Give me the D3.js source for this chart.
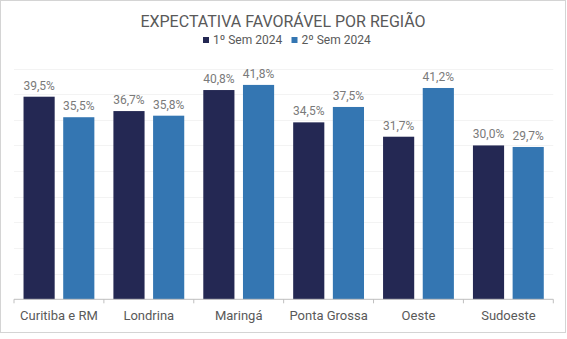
<html>
<meta name="viewport" content="width=device-width, initial-scale=1">
    <head>
        <script src="https://d3js.org/d3.v7.js"></script>
        <style>
            body { margin: 0; background: #fff; }
            text { font-family: Roboto, "Open Sans", sans-serif; }
        </style>
    </head>

    <body>
        <svg width="567" height="339"></svg>

        <script>
            // regions and the two semesters
            var regioes = ["Curitiba e RM", "Londrina", "Maringá", "Ponta Grossa", "Oeste", "Sudoeste"];
            var semestres = ["1º Sem 2024", "2º Sem 2024"];
            var sem1 = [39.5, 36.7, 40.8, 34.5, 31.7, 30.0];
            var sem2 = [35.5, 35.8, 41.8, 37.5, 41.2, 29.7];
            var cores = ["#242853", "#3476b2"];
            var yTicks = [0, 5, 10, 15, 20, 25, 30, 35, 40, 45];

            var rows = regioes.map(function(r, i) {
                return { regiao: r, valores: [sem1[i], sem2[i]] };
            });

            var ptBR = d3.formatLocale({ decimal: ",", thousands: ".", grouping: [3], currency: ["R$", ""] });
            var fmt = ptBR.format(".1f");

            var mySvg = d3.select("svg");

            // outer frame
            mySvg.append("rect")
                .attr("x", 0.5).attr("y", 0.5)
                .attr("width", 565).attr("height", 332)
                .style("fill", "white")
                .style("stroke", "#d4d4d4")
                .style("stroke-width", 1);

            var plotLeft = 14, plotRight = 553.3, plotTop = 68.5, plotBottom = 299.3;

            var x0 = d3.scaleBand().domain(regioes).range([plotLeft, plotRight]).padding(0);
            var x1 = d3.scaleBand().domain([0, 1]).range([0, x0.bandwidth()])
                .paddingInner(0.215).paddingOuter(0.24);
            var y = d3.scaleLinear().domain([0, 45]).range([plotBottom, plotTop]);

            // light horizontal gridlines
            mySvg.append("g").selectAll("line")
                .data(yTicks.slice(1))
                .join("line")
                .attr("x1", plotLeft).attr("x2", plotRight)
                .attr("y1", function(d) { return Math.round(y(d)) + 0.5; })
                .attr("y2", function(d) { return Math.round(y(d)) + 0.5; })
                .style("stroke", "#f3f3f3")
                .style("stroke-width", 1);

            // bars
            var groups = mySvg.append("g").selectAll("g")
                .data(rows)
                .join("g")
                .attr("transform", function(d) { return "translate(" + x0(d.regiao) + ",0)"; });

            groups.selectAll("rect")
                .data(function(d) { return d.valores; })
                .join("rect")
                .attr("x", function(d, i) { return x1(i); })
                .attr("y", function(d) { return y(d); })
                .attr("width", x1.bandwidth())
                .attr("height", function(d) { return y(0) - y(d); })
                .style("fill", function(d, i) { return cores[i]; });

            groups.selectAll("text")
                .data(function(d) { return d.valores; })
                .join("text")
                .attr("x", function(d, i) { return x1(i) + x1.bandwidth() / 2; })
                .attr("y", function(d) { return y(d) - 7; })
                .attr("text-anchor", "middle")
                .style("font-size", "12px")
                .style("fill", "#7a7a7a")
                .text(function(d) { return fmt(d) + "%"; });

            // category axis with ticks on band edges
            var xAxis = mySvg.append("g").attr("transform", "translate(0," + plotBottom + ")");
            xAxis.append("line")
                .attr("x1", plotLeft).attr("x2", plotRight)
                .style("stroke", "#bfbfbf");
            xAxis.selectAll("line.tick")
                .data(regioes.map(function(r) { return x0(r); }).concat([plotRight]))
                .join("line")
                .attr("class", "tick")
                .attr("x1", function(d) { return d; }).attr("x2", function(d) { return d; })
                .attr("y1", 0).attr("y2", 4)
                .style("stroke", "#bfbfbf");
            xAxis.selectAll("text")
                .data(regioes)
                .join("text")
                .attr("x", function(d) { return x0(d) + x0.bandwidth() / 2; })
                .attr("y", 21)
                .attr("text-anchor", "middle")
                .style("font-size", "13px")
                .style("fill", "#595959")
                .text(function(d) { return d; });

            // title
            mySvg.append("text")
                .attr("x", 283).attr("y", 27)
                .attr("text-anchor", "middle")
                .style("font-size", "16px")
                .style("fill", "#595959")
                .text("EXPECTATIVA FAVORÁVEL POR REGIÃO");

            // legend
            var legend = mySvg.append("g").selectAll("g")
                .data(semestres)
                .join("g")
                .attr("transform", function(d, i) { return "translate(" + (203 + i * 88.5) + ",37)"; });
            legend.append("rect")
                .attr("width", 6).attr("height", 6)
                .style("fill", function(d, i) { return cores[i]; });
            legend.append("text")
                .attr("x", 10).attr("y", 7)
                .style("font-size", "12px")
                .style("fill", "#595959")
                .text(function(d) { return d; });
        </script>
    </body>
</html>
